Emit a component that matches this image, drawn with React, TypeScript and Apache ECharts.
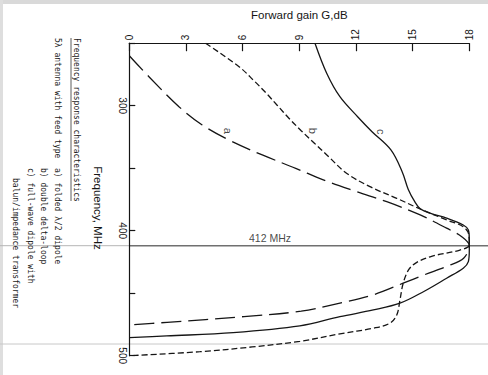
import React, { useEffect, useRef } from "react";
import * as echarts from "echarts";

// Gain axis (dB) and frequency axis (MHz)
const gainTicks = [0, 3, 6, 9, 12, 15, 18];
const freqLabels = [300, 400, 500];

// Curves: [gain dB, frequency MHz]
const curveA: [number, number][] = [
  [0, 260], [1.04, 276.8], [2.63, 300.8], [3.86, 315.4], [5.27, 327.4], [7.04, 339.4],
  [8.81, 350.1], [10.27, 359.4], [12.04, 368.8], [13.63, 376.8], [15.4, 387.4],
  [16.8, 398], [17.6, 404.8], [18, 412], [17.7, 422], [16.9, 428], [15.6, 435.4],
  [14.5, 442], [12.9, 451.4], [11.15, 458], [9.1, 464.4], [6.07, 468.7], [2, 473.3], [0, 475.4],
];
const curveB: [number, number][] = [
  [4.04, 250], [5.81, 268.8], [6.6, 280], [7.25, 290], [7.85, 300], [8.45, 310], [9.1, 320],
  [9.8, 330], [10.5, 340], [11.5, 354], [12.74, 364.8], [14.16, 374.1], [15.3, 382],
  [16.8, 391.4], [17.68, 396.8], [17.97, 403], [18, 411.5], [17.5, 415.5], [16, 420.5],
  [15.2, 425.5], [14.8, 431], [14.5, 442], [14.33, 455.4], [14.16, 467.4], [13.8, 474],
  [12.92, 478], [11.15, 482.5], [9.03, 488.5], [6.5, 493], [3.74, 496.8], [0, 500],
];
const curveC: [number, number][] = [
  [9.83, 250], [10.45, 274], [11.15, 292.8], [12.1, 309], [12.85, 320.8], [13.85, 335.4],
  [14.45, 353], [14.77, 367], [15.12, 377], [15.4, 382.5], [15.92, 386], [16.8, 390],
  [17.68, 395.4], [17.95, 399.4], [18, 406], [18, 415.4], [17.95, 424.8], [17.68, 430],
  [16.8, 438], [15.57, 448.8], [14.33, 458], [12.92, 463.4], [11.15, 468.8], [9.03, 476.2],
  [5.5, 481.6], [1.98, 484.2], [0, 485.6],
];
const curveLabels: [number, number, string][] = [
  [5.25, 320, "a"],
  [9.75, 320, "b"],
  [13.3, 320.8, "c"],
];
const markerFreq = 412;
const markerText = "412 MHz";
const markerTextGain = 7.45;

const xName = "Forward gain G,dB";
const yName = "Frequency, MHz";
const notes = [
  "Frequency response characteristics",
  "5λ antenna with feed type",
  "a) folded λ/2 dipole",
  "b) double delta-loop",
  "c) full-wave dipole with",
  "balun/impedance transformer",
];

const INK = "#151515";

export default function App() {
  const ref = useRef<HTMLDivElement>(null);
  useEffect(() => {
    const chart = echarts.init(ref.current!, null, { renderer: "svg" });
    const line = (data: [number, number][], type: any) => ({
      type: "line",
      data,
      smooth: 0.35,
      showSymbol: false,
      symbol: "none",
      silent: true,
      lineStyle: { color: INK, width: 1.3, type },
      z: 3,
    });
    chart.setOption({
      animation: false,
      backgroundColor: "#ffffff",
      grid: { left: 129.3, right: 18.7, top: 43.2, bottom: 19.3 },
      xAxis: {
        type: "value",
        position: "top",
        min: gainTicks[0],
        max: gainTicks[gainTicks.length - 1],
        interval: 3,
        name: xName,
        nameLocation: "middle",
        nameGap: 21,
        nameTextStyle: { fontFamily: "Liberation Sans, Arial, sans-serif", fontSize: 11.5, color: INK },
        axisLine: { show: true, lineStyle: { color: INK, width: 1.2 } },
        axisTick: { show: true, inside: true, length: 8, lineStyle: { color: INK, width: 1.2 } },
        axisLabel: {
          rotate: -90,
          margin: 3,
          fontSize: 10,
          fontFamily: "Liberation Sans, Arial, sans-serif",
          color: INK,
          formatter: (v: number) => (gainTicks.includes(v) ? String(v) : ""),
        },
        splitLine: { show: false },
      },
      yAxis: {
        type: "value",
        inverse: true,
        min: 250,
        max: 500,
        interval: 50,
        axisLine: { show: true, lineStyle: { color: INK, width: 1.2 } },
        axisTick: { show: true, inside: true, length: 6, lineStyle: { color: INK, width: 1.2 } },
        axisLabel: {
          rotate: -90,
          margin: 2,
          fontSize: 10,
          lineHeight: 10,
          fontFamily: "Liberation Sans, Arial, sans-serif",
          color: INK,
          formatter: (v: number) => (freqLabels.includes(v) ? String(v) : ""),
        },
        splitLine: { show: false },
      },
      series: [
        line(curveA, [20, 7]),
        line(curveB, [6, 3]),
        line(curveC, "solid"),
        {
          type: "scatter",
          symbolSize: 0,
          silent: true,
          data: curveLabels.map((d) => [d[0], d[1], d[2]]),
          label: {
            show: true,
            position: "inside",
            rotate: -90,
            fontSize: 11,
            fontFamily: "Liberation Sans, Arial, sans-serif",
            color: INK,
            formatter: (p: any) => p.value[2],
          },
          z: 4,
        },
        {
          type: "scatter",
          symbolSize: 0,
          silent: true,
          data: [[markerTextGain, markerFreq]],
          label: {
            show: true,
            position: "top",
            distance: 2,
            fontSize: 10.5,
            fontFamily: "Liberation Sans, Arial, sans-serif",
            color: INK,
            formatter: () => markerText,
          },
          z: 4,
        },
      ],
    });

    const yM = chart.convertToPixel({ yAxisIndex: 0 }, markerFreq) as number;
    const x0 = chart.convertToPixel({ xAxisIndex: 0 }, 0) as number;
    const noteText = (text: string, x: number, y: number) => ({
      type: "text",
      x,
      y,
      rotation: -Math.PI / 2,
      silent: true,
      style: {
        text,
        fontSize: 8,
        fontFamily: "'DejaVu Sans Mono', 'Liberation Mono', monospace",
        fill: "#1a1a1a",
        align: "left",
        verticalAlign: "middle",
      },
    });
    chart.setOption({
      graphic: [
        { type: "rect", shape: { x: 0, y: 0, width: 488, height: 4 }, style: { fill: "#d9d9d9" }, silent: true },
        { type: "rect", shape: { x: 0, y: 0, width: 3, height: 375 }, style: { fill: "#dedede" }, silent: true },
        { type: "line", shape: { x1: 0, y1: 344, x2: 488, y2: 344 }, style: { stroke: "#c8c8c8", lineWidth: 1 }, silent: true },
        { type: "line", shape: { x1: 0, y1: yM, x2: x0, y2: yM }, style: { stroke: "#b5b5b5", lineWidth: 1 }, silent: true },
        { type: "line", shape: { x1: x0, y1: yM, x2: 488, y2: yM }, style: { stroke: "#707070", lineWidth: 1.4 }, silent: true },
        {
          type: "text",
          x: 98,
          y: 208,
          rotation: -Math.PI / 2,
          silent: true,
          style: {
            text: yName,
            fontSize: 11.5,
            fontFamily: "'Liberation Sans', Arial, sans-serif",
            fill: INK,
            align: "center",
            verticalAlign: "middle",
          },
        },
        noteText(notes[0], 76, 38),
        { type: "line", shape: { x1: 71, y1: 38, x2: 71, y2: 201 }, style: { stroke: "#333", lineWidth: 0.8 }, silent: true },
        noteText(notes[1], 57, 38),
        noteText(notes[2], 57, 168),
        noteText(notes[3], 43, 168),
        noteText(notes[4], 30, 168),
        noteText(notes[5], 15, 178),
      ],
    });
    return () => chart.dispose();
  }, []);
  return (
    <div
      ref={ref}
      style={{ position: "fixed", left: 0, top: 0, width: 488, height: 375, background: "#fff" }}
    />
  );
}
